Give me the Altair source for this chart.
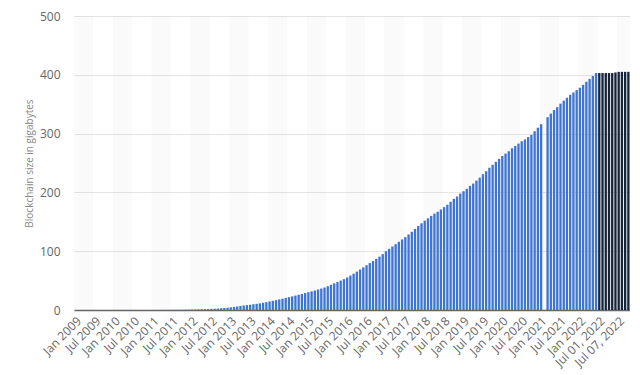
import altair as alt
import pandas as pd

month_names = ["Jan", "Feb", "Mar", "Apr", "May", "Jun",
               "Jul", "Aug", "Sep", "Oct", "Nov", "Dec"]
years = list(range(2009, 2023))

# Monthly blockchain size (GB), Jan 2009 - Jun 2022
sizes_2009 = [0.0, 0.0, 0.0, 0.0, 0.0, 0.0, 0.0, 0.0, 0.0, 0.0, 0.0, 0.0]
sizes_2010 = [0.01, 0.01, 0.01, 0.01, 0.01, 0.01, 0.01, 0.02, 0.02, 0.02, 0.03, 0.03]
sizes_2011 = [0.04, 0.05, 0.07, 0.09, 0.12, 0.17, 0.25, 0.33, 0.40, 0.45, 0.55, 0.65]
sizes_2012 = [0.75, 0.9, 1.0, 1.2, 1.4, 1.6, 1.9, 2.2, 2.6, 3.0, 3.4, 3.9]
sizes_2013 = [4.5, 5.2, 6.0, 6.9, 7.6, 8.3, 9.0, 9.8, 10.5, 11.3, 12.3, 13.3]
sizes_2014 = [14.5, 15.6, 16.8, 18.0, 19.2, 20.6, 21.9, 23.2, 24.6, 26.0, 27.4, 28.8]
sizes_2015 = [30.3, 31.7, 33.2, 34.8, 36.4, 38.2, 40.5, 43.0, 45.3, 47.6, 50.0, 52.5]
sizes_2016 = [55.3, 58.5, 61.8, 65.2, 68.8, 72.5, 76.2, 79.8, 83.3, 87.0, 90.8, 95.0]
sizes_2017 = [100.0, 104.0, 108.0, 112.0, 116.0, 120.0, 124.0, 128.5, 133.0, 138.0, 143.0, 147.5]
sizes_2018 = [152, 156, 160, 164, 167, 171, 175, 179, 184, 189, 193, 198]
sizes_2019 = [202, 206, 211, 215, 220, 225, 231, 236, 242, 247, 252, 257]
sizes_2020 = [262, 266, 270, 275, 279, 283, 287, 290, 294, 298, 304, 310]
sizes_2021 = [316, None, 328, 334, 340, 345, 351, 356, 361, 366, 370, 374]
sizes_2022 = [378, 383, 388, 393, 398, 403]

# Daily values, July 2022
july_days = ["Jul 01, 2022", "Jul 02, 2022", "Jul 03, 2022", "Jul 04, 2022", "Jul 05, 2022",
             "Jul 06, 2022", "Jul 07, 2022", "Jul 08, 2022", "Jul 09, 2022", "Jul 10, 2022"]
july_sizes = [403, 403, 403, 403, 403, 404, 405, 405, 405, 405]

monthly = (sizes_2009 + sizes_2010 + sizes_2011 + sizes_2012 + sizes_2013 + sizes_2014 +
           sizes_2015 + sizes_2016 + sizes_2017 + sizes_2018 + sizes_2019 + sizes_2020 +
           sizes_2021 + sizes_2022)
month_labels = [f"{m} {y}" for y in years for m in month_names][:len(monthly)]

categories = month_labels + july_days
values = monthly + july_sizes
kinds = ["month"] * len(month_labels) + ["day"] * len(july_days)

tick_labels = [c for i, c in enumerate(categories) if i % 6 == 0]

df = pd.DataFrame({"period": categories, "size": values, "kind": kinds})
bg = pd.DataFrame({"period": [c for i, c in enumerate(categories) if (i // 6) % 2 == 0]})

BLUE = "#3f74d0"
DARK = "#17253a"

x_enc = alt.X(
    "period:N",
    sort=categories,
    scale=alt.Scale(domain=categories, paddingInner=0, paddingOuter=0),
    axis=alt.Axis(
        values=tick_labels, labelAngle=-45, labelFontSize=12, labelColor="#666666",
        labelFont="Open Sans", ticks=False, grid=False, domainColor="#666666",
        domainWidth=1.5, labelPadding=5, title=None,
    ),
)
y_scale = alt.Scale(domain=[0, 500], nice=False)
y_axis = alt.Axis(
    values=[0, 100, 200, 300, 400, 500], grid=True, gridColor="#e5e5e5",
    domain=False, ticks=False, labelPadding=14, labelColor="#666666",
    labelFontSize=12, labelFont="Open Sans",
    title="Blockchain size in gigabytes", titleFontSize=10, titleColor="#888888",
    titleFontWeight="normal", titleFont="Open Sans", titlePadding=5,
)

bands = alt.Chart(bg).mark_bar(width=alt.RelativeBandSize(1), color="#000000", opacity=0.02).encode(
    x=x_enc,
    y=alt.Y(datum=500, scale=y_scale, axis=y_axis),
)

bars = alt.Chart(df).mark_bar(width=alt.RelativeBandSize(0.72)).encode(
    x=x_enc,
    y=alt.Y("size:Q", scale=y_scale, axis=y_axis),
    color=alt.Color("kind:N", scale=alt.Scale(domain=["month", "day"], range=[BLUE, DARK]), legend=None),
)

chart = alt.layer(bands, bars).properties(
    width=556, height=294,
    padding={"top": 2, "left": 16, "right": 0, "bottom": 0},
).configure_view(stroke=None)

chart.save("out.html", embed_options={"renderer": "svg", "actions": False})
